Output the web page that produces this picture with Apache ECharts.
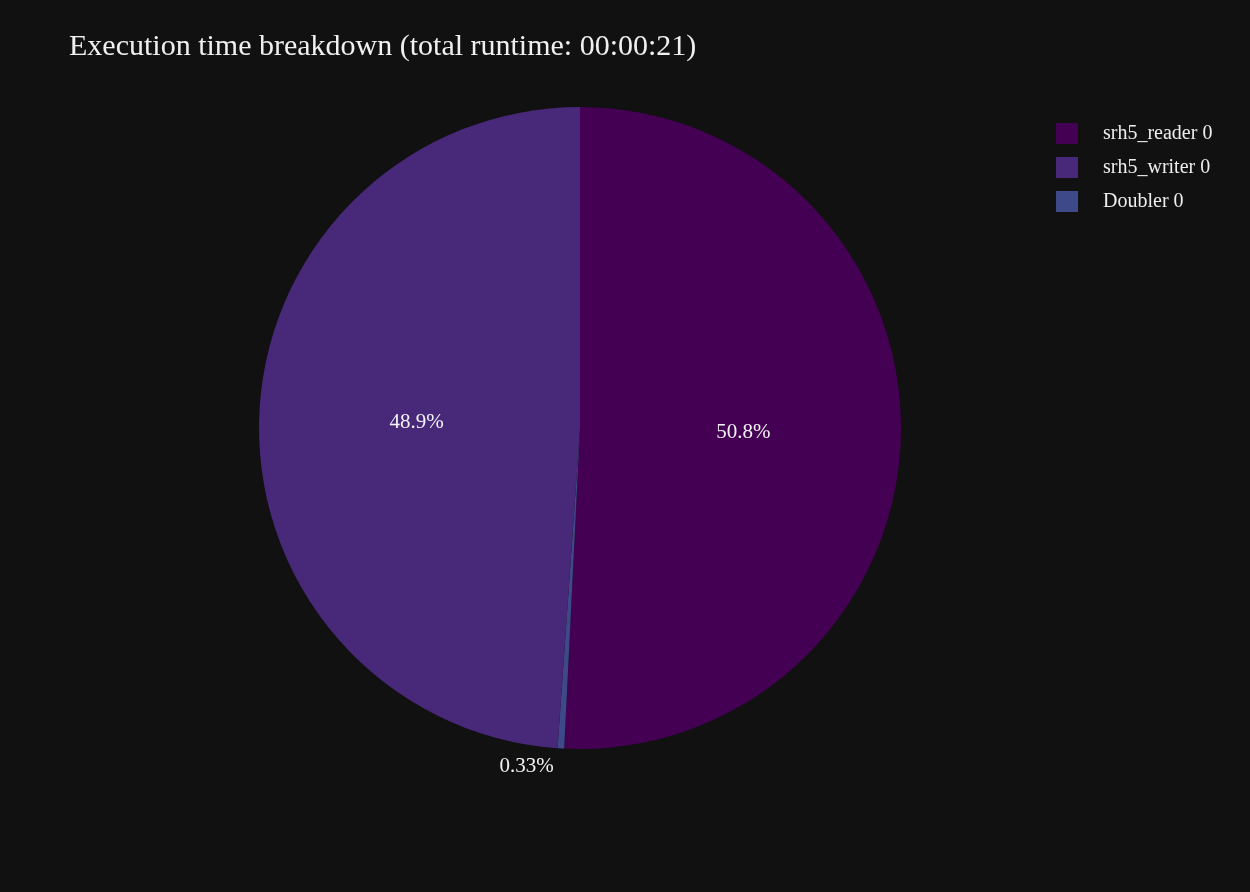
<!DOCTYPE html>
<html>
<head>
<meta charset="utf-8">
<title>Execution time breakdown</title>
<script src="https://cdn.jsdelivr.net/npm/echarts@6/dist/echarts.min.js"></script>
<style>
  html, body { margin: 0; padding: 0; background: #111111; }
  #chart { width: 1250px; height: 892px; }
</style>
</head>
<body>
<div id="chart"></div>
<script>
// slices in clockwise drawing order, starting at 12 o'clock
const sliceNames = ['srh5_reader 0', 'Doubler 0', 'srh5_writer 0']
const sliceValues = [50.8, 0.33, 48.9]
const sliceColors = ['#440154', '#3e4989', '#482878']
const legendOrder = ['srh5_reader 0', 'srh5_writer 0', 'Doubler 0']

const fontFamily = '"Liberation Serif", "DejaVu Serif", serif'

const chart = echarts.init(document.getElementById('chart'))

const pieData = sliceNames.map((name, i) => {
  const item = {
    name: name,
    value: sliceValues[i],
    itemStyle: { color: sliceColors[i] }
  }
  if (sliceValues[i] < 2) {
    // tiny slice: label sits just outside, no leader line
    item.label = { position: 'outside', offset: [-2, 18] }
    item.labelLine = { show: false, length: 0, length2: 0 }
  }
  return item
})

chart.setOption({
  backgroundColor: '#111111',
  animation: false,
  title: {
    text: 'Execution time breakdown (total runtime: 00:00:21)',
    left: 64,
    top: 27,
    textStyle: {
      color: '#f0f0f0',
      fontFamily: fontFamily,
      fontSize: 30,
      fontWeight: 'normal'
    }
  },
  legend: {
    orient: 'vertical',
    left: 1051,
    top: 118,
    data: legendOrder,
    icon: 'rect',
    itemWidth: 22,
    itemHeight: 21,
    itemGap: 13,
    textStyle: {
      color: '#eeeeee',
      fontFamily: fontFamily,
      fontSize: 20,
      padding: [0, 0, 0, 20]
    }
  },
  series: [
    {
      type: 'pie',
      center: [580, 428],
      radius: [0, 321],
      startAngle: 90,
      clockwise: true,
      percentPrecision: 6,
      avoidLabelOverlap: false,
      itemStyle: { borderWidth: 0 },
      label: {
        show: true,
        position: 'inside',
        color: '#f2f2f2',
        fontFamily: fontFamily,
        fontSize: 21,
        formatter: (p) => parseFloat(Number(p.percent).toPrecision(3)) + '%'
      },
      labelLine: { show: false },
      emphasis: { scale: false },
      data: pieData
    }
  ]
})
</script>
</body>
</html>
